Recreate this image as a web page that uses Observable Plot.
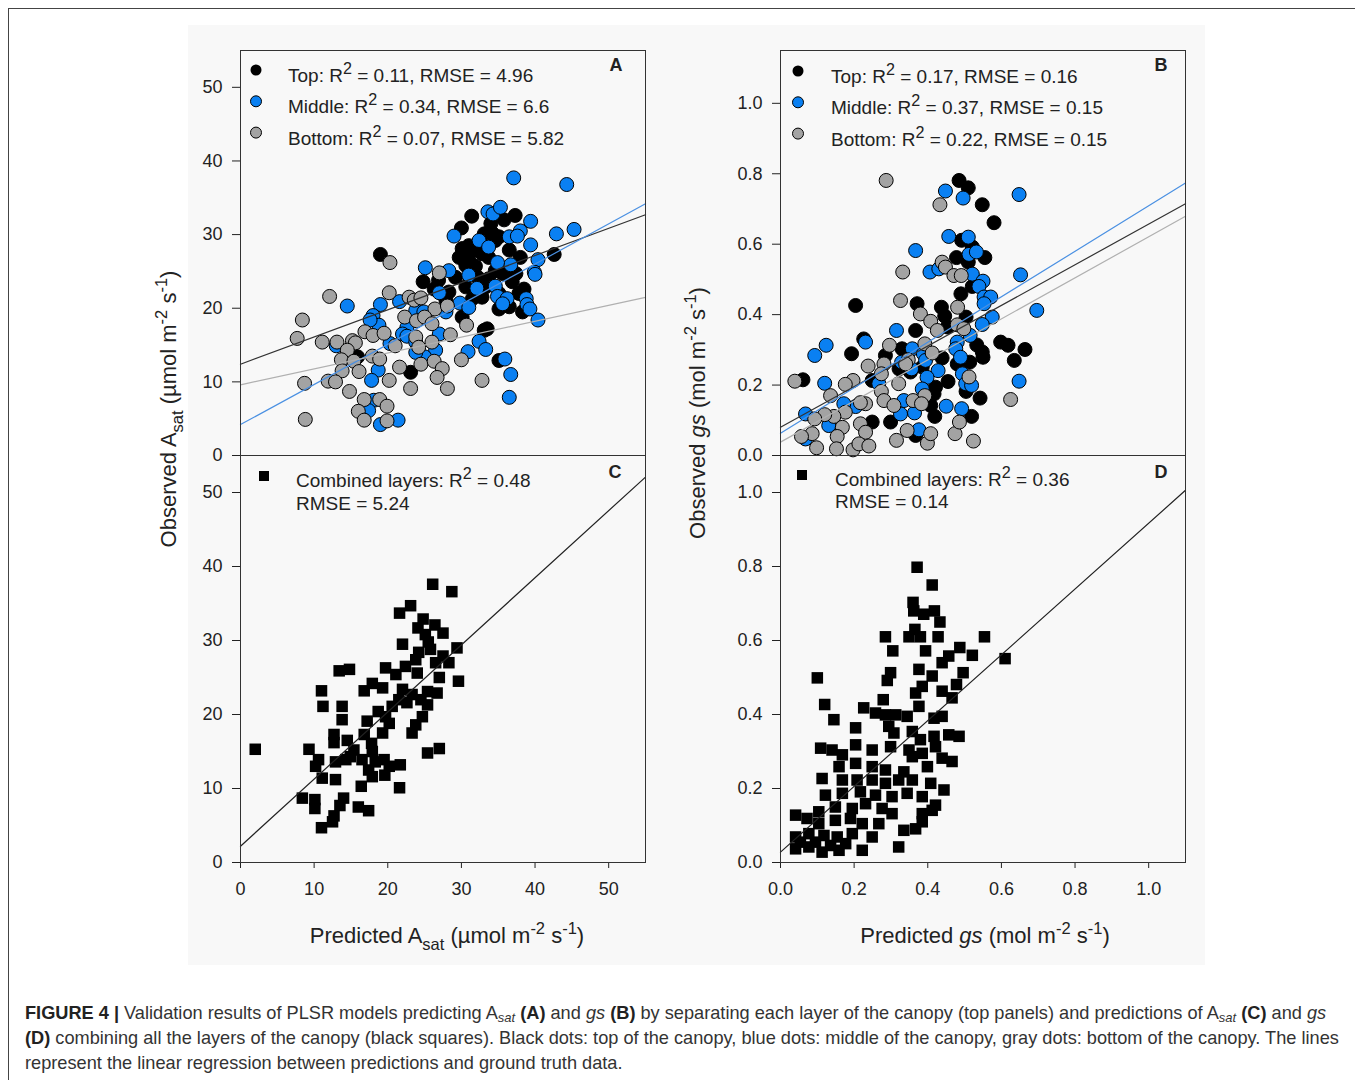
<!DOCTYPE html>
<html><head><meta charset="utf-8">
<script src="https://cdn.jsdelivr.net/npm/d3@7"></script>
<script src="https://cdn.jsdelivr.net/npm/@observablehq/plot@0.6"></script>
<style>
body{margin:0;background:#fff;}
#page{position:relative;width:1355px;height:1080px;overflow:hidden;font-family:"Liberation Sans",Arial,sans-serif;background:#fff;}
#border{position:absolute;left:8px;top:8px;width:1420px;height:1200px;border:1px solid #444;}
#bg{position:absolute;left:188px;top:25px;width:1017px;height:940px;background:#f8f8f8;}
#caption{position:absolute;left:25px;top:1001px;font-size:18.2px;line-height:25px;white-space:nowrap;color:#333;}
#caption b{color:#222;}
#caption sub{font-size:13px;vertical-align:-3px;line-height:0;}
</style></head>
<body><div id="page"><div id="border"></div><div id="bg"></div>
<div id="caption"><b>FIGURE 4 |</b> Validation results of PLSR models predicting A<sub><i>sat</i></sub> <b>(A)</b> and <i>gs</i> <b>(B)</b> by separating each layer of the canopy (top panels) and predictions of A<sub><i>sat</i></sub> <b>(C)</b> and <i>gs</i><br><b>(D)</b> combining all the layers of the canopy (black squares). Black dots: top of the canopy, blue dots: middle of the canopy, gray dots: bottom of the canopy. The lines<br>represent the linear regression between predictions and ground truth data.</div>
</div>
<script>
// ---- Panel A: Asat by layer ----
const aTop = [[31.4,32.5],[30.0,30.9],[37.3,32.6],[35.8,32.0],[34.0,31.5],[34.2,30.2],[33.1,30.1],[35.1,29.7],[34.6,29.2],[31.0,28.5],[30.1,28.1],[29.7,26.9],[31.0,27.4],[31.9,27.9],[32.8,27.4],[33.7,26.9],[36.5,27.9],[38.0,26.9],[42.6,27.3],[19.0,27.3],[30.6,25.8],[31.9,25.7],[34.6,25.1],[35.6,24.7],[33.7,24.0],[37.4,24.7],[36.9,23.6],[38.5,22.6],[37.8,22.0],[35.1,22.0],[32.8,21.5],[31.5,21.3],[30.6,22.9],[29.2,24.2],[28.3,22.2],[26.3,22.6],[24.8,23.6],[26.9,23.8],[27.9,21.1],[30.1,18.8],[33.5,17.2],[33.1,17.0],[35.1,12.9],[23.1,11.3],[15.9,13.4],[38.3,19.5],[36.5,20.2],[35.1,19.9],[33.3,22.9],[32.2,24.2],[31.0,26.5]];
const aMid = [[37.1,37.7],[44.3,36.8],[33.6,33.1],[34.3,32.8],[35.3,33.7],[39.4,31.8],[29.0,29.8],[32.4,29.2],[33.7,28.3],[36.5,29.7],[38.0,30.5],[37.6,29.8],[42.9,30.1],[45.3,30.7],[39.4,28.6],[40.4,26.6],[39.9,24.9],[40.0,24.6],[36.7,25.9],[34.9,26.2],[31.0,24.5],[25.1,25.5],[28.3,25.1],[27.0,22.1],[32.1,22.7],[34.6,23.0],[34.9,21.6],[36.2,21.3],[35.6,20.6],[38.8,21.3],[38.9,20.5],[39.3,19.9],[40.4,18.4],[29.8,20.7],[31.0,20.1],[27.9,19.5],[23.8,19.7],[24.9,19.5],[21.6,20.9],[19.0,20.5],[14.5,20.3],[18.0,19.0],[18.8,17.7],[17.6,18.4],[22.6,17.4],[22.0,16.5],[22.6,16.2],[23.8,15.4],[27.0,16.5],[26.5,14.3],[25.0,13.4],[23.8,14.0],[32.4,15.5],[33.3,14.4],[30.9,14.1],[35.9,13.1],[36.7,11.0],[36.5,7.9],[18.7,11.6],[17.8,10.2],[13.0,14.9],[20.3,15.2],[18.1,7.5],[17.4,6.1],[19.0,4.2],[21.4,4.8]];
const aBot = [[20.3,26.2],[27.0,24.8],[12.1,21.6],[20.2,22.1],[22.9,21.5],[23.6,21.1],[24.5,21.4],[26.4,19.9],[28.1,20.3],[8.4,18.4],[7.7,15.9],[11.1,15.4],[13.1,15.4],[15.2,15.6],[15.6,15.3],[16.9,16.8],[18.0,16.3],[19.5,16.6],[21.0,14.9],[22.3,18.8],[23.9,18.3],[25.0,18.8],[26.0,17.9],[23.8,16.1],[26.0,15.4],[24.2,14.7],[28.5,16.4],[30.7,17.7],[14.5,14.3],[13.7,13.0],[15.4,12.8],[17.9,13.5],[18.9,13.1],[13.8,11.5],[16.1,11.4],[21.6,12.0],[24.5,12.4],[26.3,12.8],[27.4,11.8],[26.7,10.6],[20.2,10.2],[23.1,9.1],[28.1,9.1],[32.8,10.2],[30.0,13.0],[8.7,9.8],[11.9,10.1],[12.9,10.0],[14.8,8.7],[16.8,7.6],[18.9,7.6],[19.9,6.7],[16.0,6.0],[16.8,4.8],[19.9,4.7],[8.8,4.9]];
const aFitTop = [12.4, 0.369];   // intercept, slope
const aFitMid = [4.2, 0.545];
const aFitBot = [9.6, 0.216];

// ---- Panel B: gs by layer ----
const bTop = [[0.485,0.781],[0.510,0.760],[0.548,0.712],[0.580,0.661],[0.492,0.611],[0.521,0.592],[0.555,0.562],[0.478,0.562],[0.510,0.549],[0.521,0.480],[0.490,0.459],[0.204,0.426],[0.371,0.431],[0.437,0.421],[0.446,0.396],[0.504,0.393],[0.453,0.365],[0.367,0.355],[0.226,0.331],[0.193,0.289],[0.285,0.284],[0.330,0.303],[0.439,0.277],[0.533,0.314],[0.548,0.294],[0.550,0.279],[0.514,0.265],[0.598,0.322],[0.618,0.313],[0.664,0.301],[0.635,0.270],[0.421,0.194],[0.455,0.210],[0.504,0.182],[0.542,0.163],[0.408,0.142],[0.419,0.111],[0.519,0.111],[0.299,0.095],[0.249,0.095],[0.367,0.057],[0.061,0.215],[0.249,0.213],[0.322,0.246],[0.353,0.237],[0.385,0.251],[0.480,0.260],[0.417,0.175]];
const bMid = [[0.448,0.751],[0.496,0.731],[0.648,0.741],[0.457,0.622],[0.510,0.620],[0.512,0.571],[0.532,0.578],[0.367,0.582],[0.406,0.521],[0.430,0.530],[0.521,0.515],[0.550,0.495],[0.539,0.480],[0.652,0.513],[0.553,0.450],[0.571,0.450],[0.553,0.431],[0.575,0.393],[0.548,0.372],[0.696,0.412],[0.315,0.355],[0.231,0.322],[0.124,0.313],[0.093,0.284],[0.120,0.205],[0.068,0.118],[0.131,0.085],[0.068,0.047],[0.480,0.322],[0.476,0.303],[0.515,0.341],[0.489,0.279],[0.358,0.303],[0.388,0.289],[0.394,0.270],[0.329,0.265],[0.356,0.246],[0.428,0.241],[0.398,0.222],[0.494,0.232],[0.503,0.204],[0.519,0.199],[0.385,0.189],[0.267,0.204],[0.335,0.156],[0.450,0.140],[0.492,0.133],[0.326,0.118],[0.364,0.121],[0.376,0.073],[0.648,0.211],[0.204,0.139],[0.172,0.147]];
const bBot = [[0.287,0.781],[0.433,0.712],[0.332,0.521],[0.439,0.549],[0.448,0.535],[0.471,0.511],[0.491,0.511],[0.326,0.440],[0.481,0.421],[0.380,0.402],[0.408,0.381],[0.426,0.355],[0.480,0.371],[0.498,0.360],[0.296,0.313],[0.392,0.317],[0.412,0.291],[0.347,0.272],[0.340,0.260],[0.281,0.260],[0.238,0.254],[0.274,0.232],[0.197,0.213],[0.176,0.202],[0.039,0.211],[0.136,0.170],[0.274,0.182],[0.321,0.204],[0.392,0.170],[0.360,0.156],[0.383,0.147],[0.512,0.223],[0.281,0.156],[0.308,0.142],[0.231,0.147],[0.217,0.150],[0.176,0.123],[0.145,0.111],[0.120,0.116],[0.093,0.104],[0.217,0.090],[0.168,0.080],[0.086,0.062],[0.057,0.054],[0.154,0.054],[0.231,0.066],[0.098,0.022],[0.152,0.019],[0.197,0.016],[0.213,0.033],[0.240,0.027],[0.315,0.043],[0.344,0.071],[0.399,0.035],[0.408,0.062],[0.474,0.062],[0.486,0.095],[0.524,0.041],[0.625,0.159]];
const bFitTop = [0.080, 0.577];
const bFitMid = [0.063, 0.646];
const bFitBot = [0.038, 0.583];

// ---- Panel C: Asat combined ----
const cAll = [[26.1,37.6],[28.7,36.6],[23.1,34.7],[21.6,33.7],[24.8,32.9],[26.4,32.1],[24.1,31.7],[27.5,31.0],[25.1,30.8],[25.5,29.8],[22.0,29.5],[29.4,29.0],[24.2,28.4],[25.8,28.8],[27.5,27.9],[23.8,27.4],[26.5,27.0],[28.3,27.0],[22.4,26.5],[19.7,26.3],[24.0,25.6],[13.4,25.9],[14.8,26.1],[29.6,24.5],[27.0,25.0],[21.1,25.4],[17.9,24.2],[16.8,23.2],[19.3,23.6],[11.0,23.2],[22.0,23.4],[25.4,23.1],[26.7,22.9],[23.3,22.7],[21.5,22.0],[24.5,22.0],[22.6,21.6],[25.4,21.3],[11.2,21.1],[13.8,21.1],[20.6,21.1],[18.7,20.4],[19.7,19.7],[24.7,19.7],[17.2,19.1],[13.8,19.3],[23.8,18.6],[20.2,18.8],[19.3,17.5],[16.8,17.3],[23.3,17.5],[12.7,17.3],[14.5,16.5],[12.7,16.2],[17.8,16.1],[2.0,15.3],[9.3,15.3],[15.4,15.2],[17.9,15.0],[27.0,15.4],[25.4,14.8],[10.6,13.9],[10.2,13.0],[12.9,13.6],[14.3,13.9],[16.5,13.9],[18.3,13.6],[19.5,13.9],[21.7,13.2],[20.2,13.0],[14.9,14.3],[17.4,12.5],[19.6,11.8],[11.1,11.4],[12.9,11.2],[17.9,11.6],[16.4,10.3],[21.6,10.1],[8.4,8.7],[10.1,8.5],[14.0,8.7],[10.1,7.3],[13.5,7.7],[16.0,7.5],[17.4,7.0],[12.7,6.3],[12.5,5.5],[11.0,4.7]];
const cFit = [2.2, 0.907];

// ---- Panel D: gs combined ----
const dAll = [[0.371,0.798],[0.412,0.750],[0.360,0.703],[0.362,0.680],[0.389,0.671],[0.418,0.680],[0.433,0.650],[0.365,0.630],[0.349,0.610],[0.380,0.610],[0.428,0.610],[0.285,0.610],[0.554,0.610],[0.610,0.551],[0.487,0.581],[0.521,0.560],[0.457,0.558],[0.439,0.540],[0.305,0.572],[0.394,0.572],[0.496,0.513],[0.376,0.522],[0.412,0.504],[0.299,0.513],[0.290,0.492],[0.100,0.499],[0.478,0.481],[0.385,0.476],[0.367,0.458],[0.439,0.463],[0.466,0.445],[0.279,0.440],[0.120,0.427],[0.226,0.418],[0.376,0.422],[0.439,0.395],[0.417,0.390],[0.145,0.386],[0.258,0.404],[0.285,0.399],[0.313,0.399],[0.344,0.395],[0.204,0.364],[0.294,0.368],[0.308,0.350],[0.358,0.354],[0.380,0.332],[0.457,0.345],[0.485,0.341],[0.417,0.341],[0.109,0.309],[0.140,0.304],[0.168,0.291],[0.204,0.318],[0.249,0.304],[0.299,0.313],[0.349,0.304],[0.421,0.313],[0.358,0.286],[0.385,0.295],[0.439,0.282],[0.466,0.273],[0.399,0.259],[0.159,0.259],[0.204,0.268],[0.249,0.259],[0.285,0.250],[0.335,0.245],[0.113,0.227],[0.168,0.223],[0.208,0.223],[0.249,0.223],[0.285,0.214],[0.321,0.223],[0.358,0.223],[0.408,0.214],[0.444,0.196],[0.122,0.182],[0.168,0.187],[0.217,0.191],[0.258,0.182],[0.303,0.178],[0.344,0.187],[0.385,0.178],[0.421,0.155],[0.041,0.128],[0.072,0.119],[0.104,0.137],[0.149,0.150],[0.195,0.146],[0.231,0.159],[0.276,0.146],[0.303,0.132],[0.385,0.132],[0.412,0.141],[0.104,0.105],[0.149,0.114],[0.190,0.119],[0.222,0.105],[0.267,0.105],[0.335,0.087],[0.367,0.091],[0.385,0.110],[0.041,0.069],[0.077,0.078],[0.118,0.073],[0.154,0.069],[0.195,0.078],[0.249,0.069],[0.041,0.037],[0.077,0.042],[0.113,0.028],[0.159,0.033],[0.222,0.033],[0.321,0.042],[0.054,0.055],[0.095,0.055],[0.136,0.046],[0.177,0.051]];
const dFit = [0.028, 0.889];

// ---- axes ----
const ticksAsat = [0,10,20,30,40,50];
const ticksGs = [0,0.2,0.4,0.6,0.8,1.0];
const domAsat = [0,55];
const domGsX = [0,1.1];
const domGsYB = [0,1.15];
const domGsYD = [0,1.1];

const BLACK = "#000", BLUE = "#0a80f2", GREY = "#a3a3a3";
const FONT = "'Liberation Sans', Arial, sans-serif";
const page = document.getElementById("page");

function panel({series, fits, xDomain, yDomain, xTicks, yTicks, fmt, showX, fl, ft, fw, fh}) {
  const mL = 60, mT = 10, mR = 12, mB = showX ? 50 : 12;
  const marks = [];
  marks.push(Plot.axisY({ticks: yTicks, tickSize: 8, tickPadding: 10, tickFormat: fmt, fontSize: 18, label: null}));
  if (showX) marks.push(Plot.axisX({ticks: xTicks, tickSize: 6, tickPadding: 14, tickFormat: fmt, fontSize: 18, label: null}));
  for (const s of series) {
    marks.push(Plot.dot(s.data, {x: d => d[0], y: d => d[1], r: s.r, symbol: s.symbol, fill: s.fill, stroke: s.stroke, strokeWidth: 1}));
  }
  for (const f of fits) {
    marks.push(Plot.line(xDomain, {x: d => d, y: d => f.coef[0] + f.coef[1] * d, stroke: f.color, strokeWidth: 1.2}));
  }
  marks.push(Plot.frame({stroke: "#333", strokeWidth: 1}));
  const p = Plot.plot({
    width: fw + mL + mR, height: fh + mT + mB,
    marginLeft: mL, marginTop: mT, marginRight: mR, marginBottom: mB,
    x: {domain: xDomain, axis: showX ? undefined : null},
    y: {domain: yDomain},
    style: {background: "transparent", fontFamily: FONT, fontSize: "18px", color: "#222", overflow: "visible"},
    marks
  });
  p.style.position = "absolute";
  p.style.left = (fl - mL) + "px";
  p.style.top = (ft - mT) + "px";
  page.appendChild(p);
}

const fmtInt = d3.format("d"), fmt1 = d3.format(".1f");
panel({series: [{data: aTop, fill: BLACK, stroke: "#000", r: 7}, {data: aMid, fill: BLUE, stroke: "#000", r: 7}, {data: aBot, fill: GREY, stroke: "#000", r: 7}],
  fits: [{coef: aFitTop, color: "#333"}, {coef: aFitMid, color: "#4a90e2"}, {coef: aFitBot, color: "#b0b0b0"}],
  xDomain: domAsat, yDomain: domAsat, xTicks: ticksAsat, yTicks: ticksAsat, fmt: fmtInt, showX: false, fl: 240, ft: 50, fw: 405, fh: 405});
panel({series: [{data: bTop, fill: BLACK, stroke: "#000", r: 7}, {data: bMid, fill: BLUE, stroke: "#000", r: 7}, {data: bBot, fill: GREY, stroke: "#000", r: 7}],
  fits: [{coef: bFitTop, color: "#333"}, {coef: bFitMid, color: "#4a90e2"}, {coef: bFitBot, color: "#b0b0b0"}],
  xDomain: domGsX, yDomain: domGsYB, xTicks: ticksGs, yTicks: ticksGs, fmt: fmt1, showX: false, fl: 780, ft: 50, fw: 405, fh: 405});
panel({series: [{data: cAll, fill: BLACK, stroke: "none", r: 6.5, symbol: "square"}],
  fits: [{coef: cFit, color: "#222"}],
  xDomain: domAsat, yDomain: domAsat, xTicks: ticksAsat, yTicks: ticksAsat, fmt: fmtInt, showX: true, fl: 240, ft: 455, fw: 405, fh: 407});
panel({series: [{data: dAll, fill: BLACK, stroke: "none", r: 6.5, symbol: "square"}],
  fits: [{coef: dFit, color: "#222"}],
  xDomain: domGsX, yDomain: domGsYD, xTicks: ticksGs, yTicks: ticksGs, fmt: fmt1, showX: true, fl: 780, ft: 455, fw: 405, fh: 407});

// ---- overlay texts: legends, titles, letters ----
const svg = d3.select(page).append("svg").attr("width", 1355).attr("height", 1080)
  .style("position", "absolute").style("left", 0).style("top", 0).style("pointer-events", "none")
  .style("font-family", FONT);

function rich(x, y, parts, size, opts = {}) {
  const t = svg.append("text").attr("x", x).attr("y", y).attr("font-size", size)
    .attr("text-anchor", opts.anchor || "start").attr("fill", "#222");
  if (opts.weight) t.attr("font-weight", opts.weight);
  if (opts.rotate) t.attr("transform", `rotate(${opts.rotate},${x},${y})`);
  const supScale = opts.supScale || 0.75;
  let off = 0;
  for (const [s, k] of parts) {
    let target = 0, fs = size;
    if (k === "sup") { target = -0.42 * size; fs = supScale * size; }
    if (k === "sub") { target = 0.3 * size; fs = 0.75 * size; }
    const ts = t.append("tspan").attr("font-size", fs).attr("dy", target - off).text(s);
    if (k === "it") ts.attr("font-style", "italic");
    off = target;
  }
}

const legA = [["Top", "0.11", "4.96", BLACK], ["Middle", "0.34", "6.6", BLUE], ["Bottom", "0.07", "5.82", GREY]];
const legB = [["Top", "0.17", "0.16", BLACK], ["Middle", "0.37", "0.15", BLUE], ["Bottom", "0.22", "0.15", GREY]];
function layerLegend(leg, dx, tx, y0) {
  leg.forEach(([name, r2, rmse, col], i) => {
    const cy = y0 + i * 31.3;
    svg.append("circle").attr("cx", dx).attr("cy", cy).attr("r", 5.5).attr("fill", col)
      .attr("stroke", col === BLACK ? "none" : "#000").attr("stroke-width", 1);
    rich(tx, cy + 12, [[name + ": R", "n"], ["2", "sup"], [" = " + r2 + ", RMSE = " + rmse, "n"]], 19, {supScale: 0.85});
  });
}
layerLegend(legA, 256, 288, 70);
layerLegend(legB, 798, 831, 71);

svg.append("rect").attr("x", 259).attr("y", 471).attr("width", 10).attr("height", 10).attr("fill", "#000");
rich(296, 487, [["Combined layers: R", "n"], ["2", "sup"], [" = 0.48", "n"]], 19, {supScale: 0.85});
rich(296, 510, [["RMSE = 5.24", "n"]], 19);
svg.append("rect").attr("x", 797).attr("y", 470).attr("width", 10).attr("height", 10).attr("fill", "#000");
rich(835, 486, [["Combined layers: R", "n"], ["2", "sup"], [" = 0.36", "n"]], 19, {supScale: 0.85});
rich(835, 508, [["RMSE = 0.14", "n"]], 19);

rich(616, 71, [["A", "n"]], 18, {anchor: "middle", weight: "bold"});
rich(1161, 71, [["B", "n"]], 18, {anchor: "middle", weight: "bold"});
rich(615, 478, [["C", "n"]], 18, {anchor: "middle", weight: "bold"});
rich(1161, 478, [["D", "n"]], 18, {anchor: "middle", weight: "bold"});

rich(176, 409, [["Observed A", "n"], ["sat", "sub"], [" (µmol m", "n"], ["-2", "sup"], [" s", "n"], ["-1", "sup"], [")", "n"]], 22, {anchor: "middle", rotate: -90});
rich(705, 413, [["Observed ", "n"], ["gs", "it"], [" (mol m", "n"], ["-2", "sup"], [" s", "n"], ["-1", "sup"], [")", "n"]], 22, {anchor: "middle", rotate: -90});
rich(447, 943, [["Predicted A", "n"], ["sat", "sub"], [" (µmol m", "n"], ["-2", "sup"], [" s", "n"], ["-1", "sup"], [")", "n"]], 22, {anchor: "middle"});
rich(985, 943, [["Predicted ", "n"], ["gs", "it"], [" (mol m", "n"], ["-2", "sup"], [" s", "n"], ["-1", "sup"], [")", "n"]], 22, {anchor: "middle"});
</script>
</body></html>
